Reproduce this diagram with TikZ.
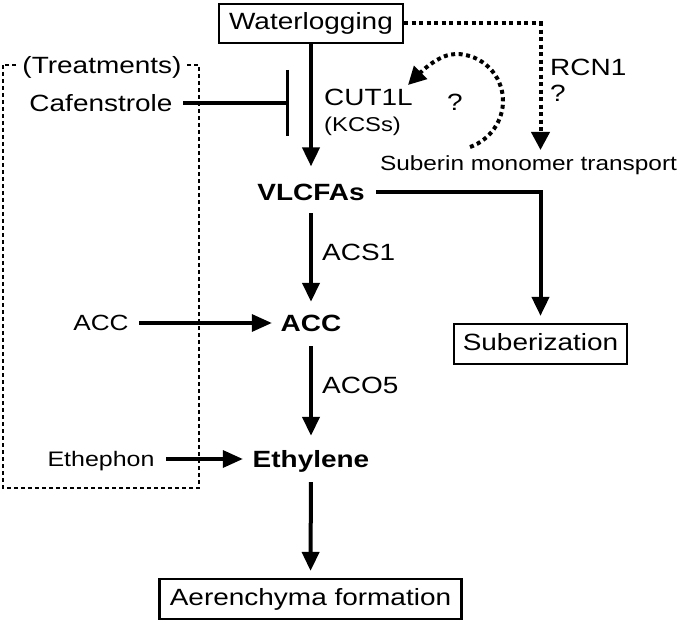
\documentclass[tikz,border=0pt]{standalone}
\usepackage{fontspec}
\setmainfont[FakeStretch=1.19]{Liberation Sans}
\usetikzlibrary{arrows.meta}
\begin{document}
\begin{tikzpicture}[x=1pt,y=-1pt,
  lbl/.style={inner sep=0pt, text height=16.8pt, text depth=0pt, font=\fontsize{23.5}{28}\selectfont},
  lblsm/.style={inner sep=0pt, text height=14.7pt, text depth=0pt, font=\fontsize{20.5}{24}\selectfont},
  lblkcs/.style={inner sep=0pt, text height=14.3pt, text depth=0pt, font=\fontsize{20}{24}\selectfont},
  lblacc/.style={inner sep=0pt, text height=15.75pt, text depth=0pt, font=\fontsize{22}{26}\selectfont},
  lbleth/.style={inner sep=0pt, text height=15pt, text depth=0pt, font=\fontsize{21}{25}\selectfont},
  boldlbl/.style={inner sep=0pt, text height=16.8pt, text depth=0pt, font=\fontsize{23.5}{28}\selectfont\bfseries},
  boxnode/.style={inner sep=0pt, text height=16.8pt, text depth=4pt, font=\fontsize{23.5}{28}\selectfont, draw, line width=2.2pt},
  arr/.style={line width=4pt, -{Triangle[width=17pt,length=19pt]}},
  sidearr/.style={line width=3.4pt, -{Triangle[width=17pt,length=20pt]}},
  dotline/.style={line width=4pt, dash pattern=on 4pt off 3.5pt},
  dotarr/.style={dotline, -{Triangle[width=18pt,length=18pt]}},
  tbox/.style={line width=2pt, dash pattern=on 4pt off 3pt}]
\useasboundingbox (0,0) rectangle (681,623);

% treatments frame
\draw[tbox] (3,65) rectangle (199,488);

% nodes
\node[boxnode, minimum width=184pt, minimum height=39pt] (water) at (311,23.5) {Waterlogging};
\node[lbl, fill=white, inner xsep=4pt] (treat) at (102,65) {(Treatments)};
\node[lbl] (caf) at (101,103) {Cafenstrole};
\coordinate (inh) at (289,103);
\node[lbl, anchor=west] (cut) at (324,97) {CUT1L};
\node[lblkcs, anchor=west] (kcs) at (324,124) {(KCSs)};
\node[lbl] (q1) at (455,102) {?};
\node[lbl, anchor=west] (rcn) at (550,67) {RCN1};
\node[lbl, anchor=west] (q2) at (550,93) {?};
\node[lblsm] (smt) at (528.5,163) {Suberin monomer transport};
\node[boldlbl] (vlcfa) at (311,192) {VLCFAs};
\node[lbl, anchor=west] (acs) at (322,252) {ACS1};
\node[boldlbl] (acc) at (311,323) {ACC};
\node[lblacc] (accl) at (101,323) {ACC};
\node[lbl, anchor=west] (aco) at (322,385) {ACO5};
\node[lbleth] (ethph) at (101,459) {Ethephon};
\node[boldlbl] (eth) at (311,459) {Ethylene};
\node[boxnode, minimum width=173pt, minimum height=40pt] (sub) at (540.5,344) {Suberization};
\node[boxnode, minimum width=302pt, minimum height=40pt] (aer) at (310.5,599) {Aerenchyma formation};

% connectors
\draw[arr, shorten >=17pt] (water.south) -- (vlcfa.north);
\draw[line width=3.4pt, shorten <=10.5pt, -{Bar[width=66pt]}] (caf.east) -- (inh);
\draw[arr, shorten <=12.6pt, shorten >=12.6pt] (vlcfa.south) -- (acc.north);
\draw[arr, shorten <=14.6pt, shorten >=14.6pt] (acc.south) -- (eth.north);
\draw[arr, shorten <=14.6pt, shorten >=7pt] (eth.south) -- (aer.north);
\draw[sidearr, shorten <=10.4pt, shorten >=8.7pt] (accl.east) -- (acc.west);
\draw[sidearr, shorten <=11.5pt, shorten >=9.7pt] (ethph.east) -- (eth.west);
\draw[arr, shorten <=11.6pt, shorten >=7pt] (vlcfa.east) -| (sub.north);

\coordinate (rtip) at (540.5,150);
\draw[dotarr] (water.east) -| (rtip);

\coordinate (cs) at (470,147);
\coordinate (ce) at (408,85);
\draw[dotarr] (cs) .. controls (490,140) and (503,121) .. (503,101)
  .. controls (503,75) and (482,54) .. (456,54)
  .. controls (441,54) and (425,68) .. (ce);
\end{tikzpicture}
\end{document}
